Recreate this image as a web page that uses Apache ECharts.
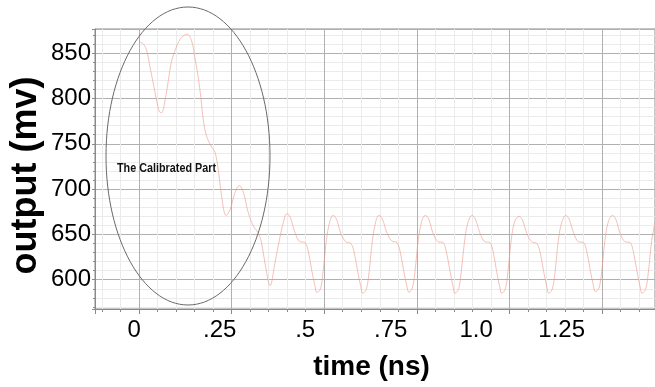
<!DOCTYPE html>
<html>
<head>
<meta charset="utf-8">
<script src="https://cdn.jsdelivr.net/npm/echarts@6/dist/echarts.min.js"></script>
<style>
  html, body { margin: 0; padding: 0; background: #ffffff; }
  #chart { width: 655px; height: 387px; }
</style>
</head>
<body>
<div id="chart"></div>
<script>
// Output waveform: time in ns, output in mV
const time = [
  0.000, 0.012, 0.021, 0.030, 0.039, 0.048, 0.055, 0.061, 0.070, 0.079, 0.088, 0.102, 0.115,
  0.130, 0.142, 0.151, 0.160, 0.167, 0.174, 0.183, 0.196, 0.205, 0.214, 0.223, 0.235, 0.246,
  0.259, 0.271, 0.282, 0.295, 0.309, 0.322, 0.331, 0.340, 0.354, 0.367, 0.381, 0.394,
  0.400, 0.409, 0.421, 0.434, 0.448, 0.457, 0.466, 0.475, 0.480, 0.490, 0.497, 0.506, 0.515,
  0.524, 0.533, 0.545, 0.558, 0.572, 0.581, 0.590, 0.599, 0.604, 0.614, 0.621, 0.630, 0.639,
  0.648, 0.657, 0.669, 0.682, 0.696, 0.705, 0.714, 0.723, 0.729, 0.738, 0.745, 0.754, 0.763,
  0.773, 0.782, 0.794, 0.807, 0.821, 0.830, 0.839, 0.848, 0.853, 0.863, 0.870, 0.879, 0.888,
  0.899, 0.908, 0.920, 0.933, 0.947, 0.956, 0.965, 0.974, 0.979, 0.989, 0.996, 1.005, 1.014,
  1.026, 1.035, 1.047, 1.060, 1.074, 1.083, 1.092, 1.101, 1.106, 1.116, 1.123, 1.132, 1.141,
  1.152, 1.161, 1.173, 1.186, 1.200, 1.209, 1.218, 1.227, 1.232, 1.242, 1.249, 1.258, 1.267,
  1.278, 1.287, 1.299, 1.312, 1.326, 1.335, 1.344, 1.353, 1.358, 1.368, 1.375, 1.384, 1.393
];
const output = [
  862.9, 860.0, 852.5, 834.0, 815.7, 797.0, 785.5, 784.4, 797.0, 819.4, 841.5, 858.0, 867.4,
  871.0, 863.6, 845.0, 823.0, 801.0, 775.0, 757.5, 746.6, 741.0, 721.7, 692.0, 670.8, 677.4,
  696.0, 704.0, 696.0, 674.0, 659.0, 651.7, 640.6, 618.5, 593.4, 618.5, 648.0, 670.0,
  673, 668, 652, 642, 641, 631, 611, 593, 586, 590, 609, 644, 664,
  671, 667, 651, 642, 640, 630, 610, 592, 585, 590, 608, 643, 664,
  671, 667, 652, 643, 641, 631, 611, 593, 586, 591, 609, 644, 664,
  671, 667, 651, 642, 641, 630, 611, 592, 585, 590, 609, 643, 663,
  671, 667, 652, 642, 641, 631, 610, 592, 585, 590, 609, 644, 664,
  670, 666, 651, 642, 640, 630, 610, 592, 585, 590, 608, 643, 663,
  671, 667, 652, 642, 641, 631, 611, 593, 587, 591, 609, 644, 664,
  671, 667, 651, 642, 641, 630, 610, 592, 585, 590, 608, 643, 663
];

// Time axis tick labels
const tickValues = [0, 0.25, 0.5, 0.75, 1.0, 1.25];
const tickLabels = ['0', '.25', '.5', '.75', '1.0', '1.25'];

const xTitle = 'time (ns)';
const yTitle = 'output (mv)';
const note = 'The Calibrated Part';

const chart = echarts.init(document.getElementById('chart'), null, { renderer: 'canvas' });

const FONT = 'Liberation Sans, Arial, sans-serif';

chart.setOption({
  animation: false,
  backgroundColor: '#ffffff',
  grid: {
    left: 95, top: 29, right: 0, bottom: 78,
    show: true, borderColor: '#8a8a8a', borderWidth: 1
  },
  xAxis: [
    {
      // data axis: carries the grid and ticks
      type: 'value',
      min: -0.1188, max: 1.393,
      minInterval: 0.25, maxInterval: 0.25,
      axisLine: { show: true, onZero: false, lineStyle: { color: '#8a8a8a' } },
      axisTick: { show: true, length: 5, lineStyle: { color: '#8a8a8a' } },
      minorTick: { show: true, splitNumber: 5, length: 3, lineStyle: { color: '#8a8a8a' } },
      axisLabel: { show: false },
      splitLine: { show: true, lineStyle: { color: '#b0b0b0', width: 1 } },
      minorSplitLine: { show: true, lineStyle: { color: '#ebebeb', width: 1 } }
    },
    {
      // label axis for the time ticks
      type: 'value',
      position: 'bottom',
      min: -0.1146, max: 1.5228,
      axisLine: { show: false },
      axisTick: { show: false },
      splitLine: { show: false },
      axisLabel: {
        show: true,
        customValues: tickValues,
        margin: 9,
        color: '#000',
        fontFamily: FONT,
        fontSize: 24,
        formatter: function (v) {
          const i = tickValues.findIndex(function (t) { return Math.abs(t - v) < 1e-6; });
          return i >= 0 ? tickLabels[i] : '';
        }
      }
    }
  ],
  yAxis: {
    type: 'value',
    min: 567.7, max: 876.7,
    minInterval: 50, maxInterval: 50,
    axisLine: { show: true, onZero: false, lineStyle: { color: '#8a8a8a' } },
    axisTick: { show: true, length: 3, lineStyle: { color: '#8a8a8a' } },
    minorTick: { show: true, splitNumber: 5, length: 2, lineStyle: { color: '#8a8a8a' } },
    axisLabel: {
      margin: 4,
      color: '#000',
      fontFamily: FONT,
      fontSize: 24,
      showMinLabel: false,
      showMaxLabel: false,
      formatter: function (v) { return (Math.abs(v % 50) < 1e-6) ? String(v) : ''; }
    },
    splitLine: { show: true, lineStyle: { color: '#b0b0b0', width: 1 } },
    minorSplitLine: { show: true, lineStyle: { color: '#ebebeb', width: 1 } }
  },
  series: [{
    type: 'line',
    xAxisIndex: 0,
    data: time.map(function (t, i) { return [t, output[i]]; }),
    showSymbol: false,
    smooth: 0.35,
    lineStyle: { color: '#ec9888', width: 1, opacity: 0.6 },
    silent: true,
    z: 3
  }],
  graphic: [
    {
      type: 'ellipse',
      shape: { cx: 188, cy: 156, rx: 82, ry: 149 },
      style: { fill: 'none', stroke: '#6a6a6a', lineWidth: 1 },
      z: 10
    },
    {
      type: 'text',
      x: 117, y: 168,
      scaleX: 0.8,
      style: {
        text: note,
        fill: '#111',
        font: 'bold 13.5px ' + FONT,
        align: 'left',
        verticalAlign: 'middle'
      },
      z: 10
    },
    {
      type: 'text',
      x: 371.5, y: 367,
      style: {
        text: xTitle,
        fill: '#000',
        font: 'bold 28px ' + FONT,
        align: 'center',
        verticalAlign: 'middle'
      },
      z: 10
    },
    {
      type: 'text',
      x: 26, y: 175.5,
      rotation: Math.PI / 2,
      style: {
        text: yTitle,
        fill: '#000',
        font: 'bold 36px ' + FONT,
        align: 'center',
        verticalAlign: 'middle'
      },
      z: 10
    }
  ]
});
</script>
</body>
</html>
